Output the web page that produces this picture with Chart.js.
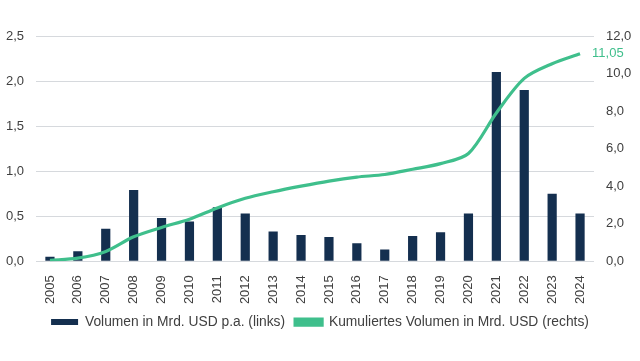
<!DOCTYPE html>
<html>
<head>
<meta charset="utf-8">
<script src="https://cdn.jsdelivr.net/npm/chart.js@4"></script>
<style>
    html, body { margin: 0; padding: 0; background: #ffffff; }
    #wrap { width: 640px; height: 361px; position: relative; }
</style>
</head>
<body>
<div id="wrap"><canvas id="chart"></canvas></div>
<script>
// data
var years = ['2005', '2006', '2007', '2008', '2009', '2010', '2011', '2012', '2013', '2014',
             '2015', '2016', '2017', '2018', '2019', '2020', '2021', '2022', '2023', '2024'];
var volumePerYear = [0.05, 0.11, 0.36, 0.79, 0.48, 0.44, 0.60, 0.53, 0.33, 0.29,
                     0.27, 0.20, 0.13, 0.28, 0.32, 0.53, 2.10, 1.90, 0.75, 0.53];
var volumeCumulated = [0.05, 0.16, 0.52, 1.30, 1.80, 2.24, 2.84, 3.35, 3.70, 4.00,
                       4.27, 4.48, 4.62, 4.90, 5.20, 5.74, 7.90, 9.74, 10.52, 11.05];
var leftTicks = [0, 0.5, 1.0, 1.5, 2.0, 2.5];
var rightTicks = [0, 2, 4, 6, 8, 10, 12];
var lastLabel = '11,05';

var NAVY = '#142f4f';
var GREEN = '#3fbf8c';
var TEXT = '#404040';
var GRID = '#d6d9dd';

Chart.defaults.font.family = '"Liberation Sans", Arial, sans-serif';
Chart.defaults.font.size = 13;
Chart.defaults.color = TEXT;

function fmt(v, digits) {
    return v.toFixed(digits).replace('.', ',');
}

// writes the final cumulative value next to the end of the line
var endLabelPlugin = {
    id: 'endLabel',
    afterDatasetsDraw: function(chart) {
        var meta = chart.getDatasetMeta(1);
        var pt = meta.data[meta.data.length - 1];
        var ctx = chart.ctx;
        ctx.save();
        ctx.font = '13px "Liberation Sans", Arial, sans-serif';
        ctx.fillStyle = GREEN;
        ctx.textAlign = 'left';
        ctx.textBaseline = 'middle';
        ctx.fillText(lastLabel, pt.x + 12, pt.y);
        ctx.restore();
    }
};

var ctx = document.getElementById('chart').getContext('2d');
var chart = new Chart(ctx, {
    data: {
        labels: years,
        datasets: [{
            type: 'bar',
            label: 'Volumen in Mrd. USD p.a. (links)',
            data: volumePerYear,
            backgroundColor: NAVY,
            borderWidth: 0,
            barPercentage: 0.33,
            categoryPercentage: 1,
            yAxisID: 'y',
            order: 1
        }, {
            type: 'line',
            label: 'Kumuliertes Volumen in Mrd. USD (rechts)',
            data: volumeCumulated,
            borderColor: GREEN,
            backgroundColor: GREEN,
            borderWidth: 3.2,
            pointRadius: 0,
            tension: 0.3,
            fill: false,
            yAxisID: 'y1',
            order: 0
        }]
    },
    options: {
        responsive: true,
        maintainAspectRatio: false,
        animation: false,
        layout: {
            padding: { top: 36, left: 0, right: 0, bottom: 22 }
        },
        plugins: {
            tooltip: { enabled: false },
            legend: {
                position: 'bottom',
                labels: {
                    boxWidth: 27,
                    boxHeight: 6,
                    padding: 10,
                    color: TEXT,
                    font: { size: 13.8 },
                    sort: function(a, b) { return a.datasetIndex - b.datasetIndex; }
                }
            }
        },
        scales: {
            x: {
                grid: { display: false },
                border: { display: false },
                ticks: {
                    minRotation: 90,
                    maxRotation: 90,
                    padding: 6,
                    color: TEXT,
                    font: { size: 13 }
                },
                afterFit: function(scale) { scale.height = 44; }
            },
            y: {
                position: 'left',
                min: 0,
                max: 2.5,
                afterBuildTicks: function(scale) {
                    scale.ticks = leftTicks.map(function(v) { return { value: v }; });
                },
                grid: { color: GRID, lineWidth: 1, drawTicks: false },
                border: { display: false },
                ticks: {
                    padding: 12,
                    color: TEXT,
                    callback: function(v) { return fmt(v, 1); }
                },
                afterFit: function(scale) { scale.width = 36; }
            },
            y1: {
                position: 'right',
                min: 0,
                max: 12,
                afterBuildTicks: function(scale) {
                    scale.ticks = rightTicks.map(function(v) { return { value: v }; });
                },
                grid: { drawOnChartArea: false, drawTicks: false },
                border: { display: false },
                ticks: {
                    padding: 12,
                    color: TEXT,
                    callback: function(v) { return fmt(v, 1); }
                },
                afterFit: function(scale) { scale.width = 46; }
            }
        }
    },
    plugins: [endLabelPlugin]
});
</script>
</body>
</html>
